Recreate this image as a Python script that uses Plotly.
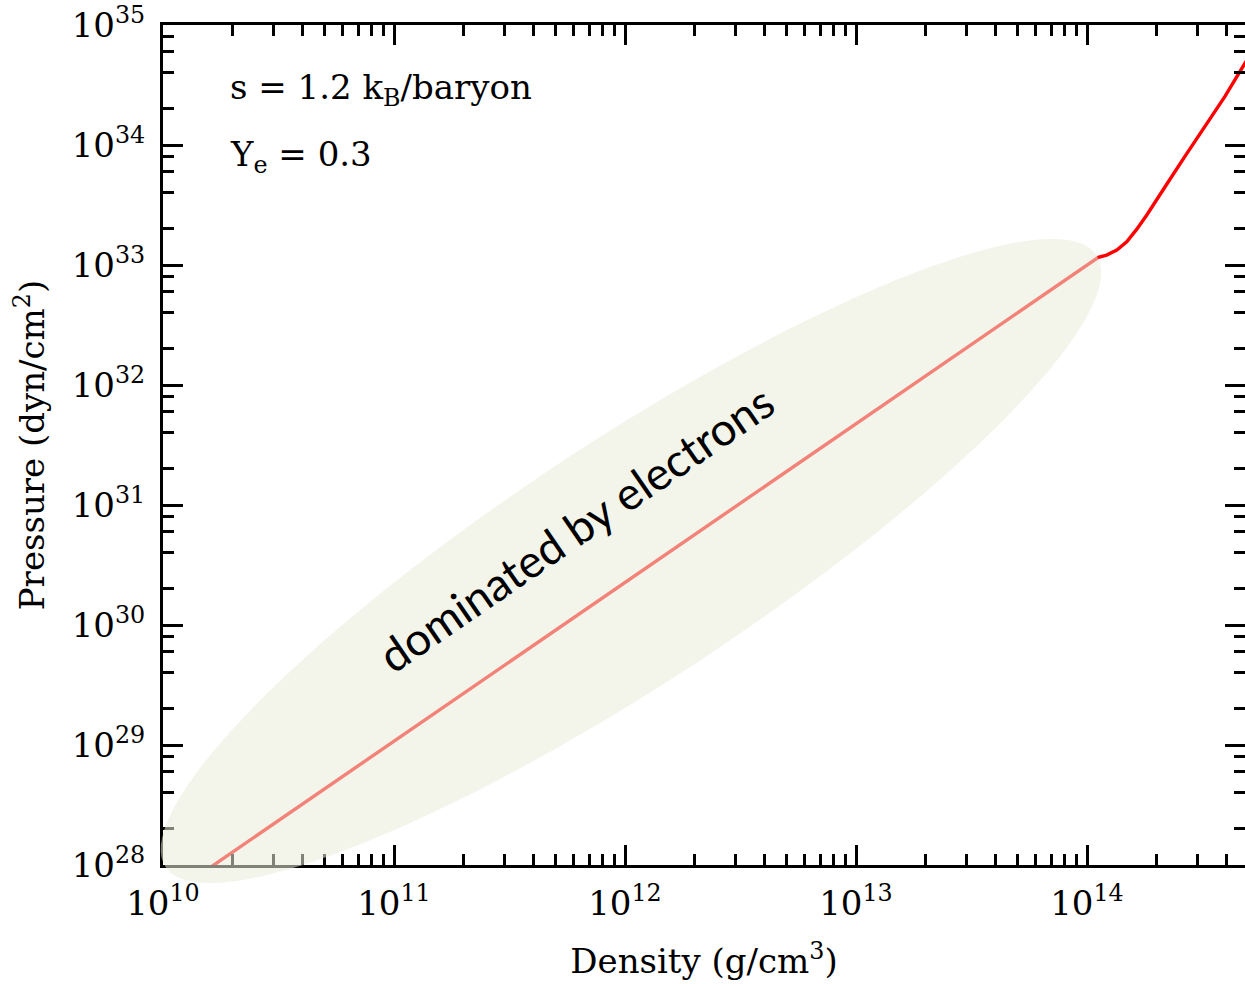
import numpy as np
import plotly.graph_objects as go

# ---- data (g/cm^3, dyn/cm^2) ----
density = [1.0e10, 2.0e10, 5.0e10, 1.0e11, 2.0e11, 5.0e11, 1.0e12, 2.0e12, 5.0e12,
           1.0e13, 2.0e13, 5.0e13, 1.0e14, 1.12e14, 1.216e14, 1.346e14, 1.486e14,
           1.64e14, 1.815e14, 2.0e14, 2.25e14, 2.65e14, 3.24e14, 3.95e14, 4.83e14, 5.25e14]
pressure = [5.12e27, 1.28e28, 4.3e28, 1.08e29, 2.69e29, 9.04e29, 2.26e30, 5.65e30, 1.9e31,
            4.75e31, 1.19e32, 3.99e32, 1.0e33, 1.16e33, 1.21e33, 1.33e33, 1.56e33,
            1.98e33, 2.61e33, 3.44e33, 4.94e33, 8.0e33, 1.42e34, 2.53e34, 4.8e34, 6.17e34]

x_range_log = [10, 14.684]
y_range_log = [28, 35]
x_exps = [10, 11, 12, 13, 14]
y_exps = [28, 29, 30, 31, 32, 33, 34, 35]
x_tickvals = [10.0 ** e for e in x_exps]
x_ticktext = [f"10<sup>{e}</sup>" for e in x_exps]
y_tickvals = [10.0 ** e for e in y_exps]
y_ticktext = [f"10<sup>{e}</sup>" for e in y_exps]
x_minor_vals = [k * 10.0 ** e for e in range(10, 15) for k in range(2, 10)]
y_minor_vals = [k * 10.0 ** e for e in range(28, 35) for k in (2, 4, 6, 8)]

label_s = "s = 1.2 k<sub>B</sub>/baryon"
label_ye = "Y<sub>e</sub> = 0.3"
label_region = "dominated by electrons"
x_title = "Density (g/cm<sup>3</sup>)"
y_title = "Pressure (dyn/cm<sup>2</sup>)"

# ---- layout geometry ----
W, H = 1245, 984
ML, MR, MT, MB = 163, 0, 25, 119
PW, PH = W - ML - MR, H - MT - MB


def to_paper(px, py):
    return (px - ML) / PW, (H - MB - py) / PH


# highlighted ellipse (decoration, pixel geometry)
cx, cy, ea, eb, th = 631, 561, 557, 121, np.deg2rad(33.3)
t = np.linspace(0, 2 * np.pi, 145)
ux, uy = np.cos(th), -np.sin(th)
vx, vy = np.sin(th), np.cos(th)
ex = cx + ea * np.cos(t) * ux + eb * np.sin(t) * vx
ey = cy + ea * np.cos(t) * uy + eb * np.sin(t) * vy
pts = [to_paper(a, b) for a, b in zip(ex, ey)]
path = "M " + " L ".join(f"{p[0]:.5f},{p[1]:.5f}" for p in pts) + " Z"

SERIF = "DejaVu Serif"

fig = go.Figure()
fig.add_trace(go.Scatter(x=density, y=pressure, mode="lines",
                         line=dict(color="#ff0000", width=3.4),
                         showlegend=False, hoverinfo="skip"))
fig.add_trace(go.Scatter(x=density, y=pressure, mode="lines", yaxis="y2",
                         line=dict(color="rgba(0,0,0,0)", width=0),
                         showlegend=False, hoverinfo="skip"))

tick_common = dict(ticks="inside", ticklen=20, tickwidth=2.5, tickcolor="black",
                   showgrid=False, zeroline=False, automargin=False)


def minor(vals):
    return dict(ticks="inside", ticklen=11, tickwidth=2.5, tickcolor="black",
                tickmode="array", tickvals=vals, showgrid=False)


fig.update_layout(
    width=W, height=H,
    margin=dict(l=ML, r=MR, t=MT, b=MB, pad=0),
    paper_bgcolor="white", plot_bgcolor="white",
    font=dict(family=SERIF, size=34, color="black"),
    xaxis=dict(type="log", range=x_range_log, tickmode="array",
               tickvals=x_tickvals, ticktext=x_ticktext,
               showline=True, linewidth=3, linecolor="black", mirror="ticks",
               tickfont=dict(family=SERIF, size=34),
               ticklabelstandoff=6,
               minor=minor(x_minor_vals),
               title=dict(text=x_title, font=dict(family=SERIF, size=34), standoff=28),
               **tick_common),
    yaxis=dict(type="log", range=y_range_log, tickmode="array",
               tickvals=y_tickvals, ticktext=y_ticktext,
               showline=True, linewidth=3, linecolor="black", mirror=False,
               tickfont=dict(family=SERIF, size=34),
               ticklabelstandoff=8,
               minor=minor(y_minor_vals),
               title=dict(text=y_title, font=dict(family=SERIF, size=34), standoff=17),
               **tick_common),
    yaxis2=dict(type="log", range=y_range_log, tickmode="array",
                tickvals=y_tickvals, overlaying="y", side="right",
                showticklabels=False, showline=False,
                minor=minor(y_minor_vals),
                **tick_common),
    shapes=[dict(type="path", xref="paper", yref="paper", path=path,
                 fillcolor="rgba(233,236,218,0.55)", line=dict(width=0),
                 layer="above")],
)

ax, ay = to_paper(228, 90)
fig.add_annotation(x=ax, y=ay, xref="paper", yref="paper", text=label_s,
                   showarrow=False, xanchor="left", yanchor="middle",
                   font=dict(family=SERIF, size=34, color="black"))
ax, ay = to_paper(228, 156)
fig.add_annotation(x=ax, y=ay, xref="paper", yref="paper", text=label_ye,
                   showarrow=False, xanchor="left", yanchor="middle",
                   font=dict(family=SERIF, size=34, color="black"))
ax, ay = to_paper(575, 528)
fig.add_annotation(x=ax, y=ay, xref="paper", yref="paper", text=label_region,
                   showarrow=False, xanchor="center", yanchor="middle", textangle=-34.5,
                   font=dict(family="Lato", size=45.5, color="black"))

fig.write_html("out.html")
